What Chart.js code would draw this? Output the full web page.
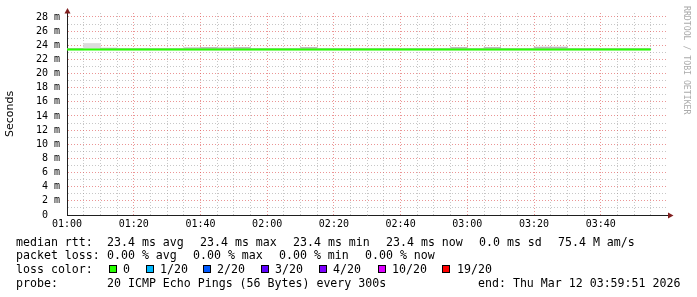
<!DOCTYPE html>
<html><head><meta charset="utf-8">
<script src="https://cdn.jsdelivr.net/npm/chart.js@4/dist/chart.umd.min.js"></script>
<style>
html,body{margin:0;padding:0;background:#fff;}
#wrap{position:relative;width:697px;height:297px;overflow:hidden;background:#fff;}
canvas{position:absolute;left:0;top:0;}
.t{position:absolute;font-family:"DejaVu Sans Mono",monospace;font-size:11.6px;line-height:14px;white-space:pre;color:#000;}
.box{position:absolute;width:6px;height:6px;border:1px solid #000;}
#wm{position:absolute;left:682px;top:6px;writing-mode:vertical-rl;font-family:"DejaVu Sans Mono",monospace;font-size:8.2px;line-height:10px;color:#aaa;white-space:pre;}
</style></head>
<body>
<div id="wrap">
<canvas id="c" width="697" height="297"></canvas>
<div id="legend"></div>
<div id="wm"></div>
</div>
<script>
// ---- data ----
const timeTickLabels = ['01:00','01:20','01:40','02:00','02:20','02:40','03:00','03:20','03:40'];
const stepMinutes = [0,5,10,15,20,25,30,35,40,45,50,55,60,65,70,75,80,85,90,95,100,105,110,115,120,125,130,135,140,145,150,155,160,165,170,175];
const medianRtt = [23.4,23.4,23.4,23.4,23.4,23.4,23.4,23.4,23.4,23.4,23.4,23.4,23.4,23.4,23.4,23.4,23.4,23.4,23.4,23.4,23.4,23.4,23.4,23.4,23.4,23.4,23.4,23.4,23.4,23.4,23.4,23.4,23.4,23.4,23.4,23.4];
const smokeStart = [0,5,10,15,20,25,30,35,40,45,50,55,60,65,70,75,80,85,90,95,100,105,110,115,120,125,130,135,140,145,150,155,160,165,170];
const smokeLow  = [23.35,23.4,23.35,23.35,23.35,23.35,23.35,23.35,23.35,23.35,23.35,23.35,23.35,23.35,23.35,23.35,23.35,23.35,23.35,23.35,23.35,23.35,23.35,23.35,23.35,23.35,23.35,23.35,23.35,23.35,23.35,23.35,23.35,23.35,23.35];
const smokeHigh = [23.55,24.25,23.6,23.55,23.55,23.55,23.55,23.65,23.7,23.65,23.7,23.55,23.55,23.55,23.7,23.55,23.55,23.55,23.55,23.55,23.55,23.55,23.55,23.7,23.55,23.7,23.55,23.55,23.75,23.75,23.55,23.55,23.55,23.55,23.55];
const yTickValues = [0,2,4,6,8,10,12,14,16,18,20,22,24,26,28];
const statLine1 = ['median rtt:','23.4 ms avg','23.4 ms max','23.4 ms min','23.4 ms now','0.0 ms sd','75.4 M am/s'];
const statLine2 = ['packet loss:','0.00 % avg','0.00 % max','0.00 % min','0.00 % now'];
const lossLabels = ['0','1/20','2/20','3/20','4/20','10/20','19/20'];
const lossColors = ['#26ff00','#00b8ff','#0059ff','#5e00ff','#7e00ff','#dd00ff','#ff0000'];
const probeText = ['probe:','20 ICMP Echo Pings (56 Bytes) every 300s','end: Thu Mar 12 03:59:51 2026'];
const watermark = 'RRDTOOL / TOBI OETIKER';

// ---- legend (HTML text) ----
const leg = document.getElementById('legend');
function addText(txt, x, y){const d=document.createElement('div');d.className='t';d.textContent=txt;d.style.left=x+'px';d.style.top=y+'px';leg.appendChild(d);}
const l1x=[16,107,200,293,386,479,558];
statLine1.forEach((s,i)=>addText(s,l1x[i],234.5));
const l2x=[16,107,193,279,365];
statLine2.forEach((s,i)=>addText(s,l2x[i],248));
addText('loss color:',16,262);
const bx=[109,146,203,261,319,378,442], tx=[123,160,217,275,333,392,457];
lossLabels.forEach((s,i)=>{const b=document.createElement('div');b.className='box';b.style.left=bx[i]+'px';b.style.top='265px';b.style.background=lossColors[i];leg.appendChild(b);addText(s,tx[i],262);});
const l4x=[16,107,478];
probeText.forEach((s,i)=>addText(s,l4x[i],275.5));
document.getElementById('wm').textContent = watermark;

// ---- chart ----
const MAJ='rgba(222,79,79,0.6)', MIN='rgba(143,143,143,0.5)';
const arrows = {
  id:'arrows',
  afterDraw(chart){
    const {ctx, chartArea:a} = chart;
    ctx.save();
    ctx.strokeStyle='#1f1f1f'; ctx.lineWidth=1;
    ctx.beginPath(); ctx.moveTo(a.right, a.bottom+0.5); ctx.lineTo(a.right+3, a.bottom+0.5); ctx.stroke();
    ctx.fillStyle='#801f1f';
    ctx.beginPath(); ctx.moveTo(a.right+6.5, a.bottom+0.5); ctx.lineTo(a.right+1, a.bottom-2.5); ctx.lineTo(a.right+1, a.bottom+3.5); ctx.closePath(); ctx.fill();
    ctx.beginPath(); ctx.moveTo(a.left+0.5, a.top-5); ctx.lineTo(a.left-2.5, a.top+0.5); ctx.lineTo(a.left+3.5, a.top+0.5); ctx.closePath(); ctx.fill();
    ctx.restore();
  }
};
new Chart(document.getElementById('c'), {
  type:'line',
  data:{
    datasets:[
      {type:'line', label:'median', data: stepMinutes.map((m,i)=>({x:m,y:medianRtt[i]})), borderColor:'#26ff00', borderWidth:2, pointRadius:0, stepped:'before', fill:false, order:0, borderCapStyle:'butt'},
      {type:'bar', label:'smoke', data: smokeStart.map((m,i)=>({x:m+2.5,y:[smokeLow[i],smokeHigh[i]]})),
        backgroundColor: smokeStart.map((m,i)=> (smokeHigh[i]-smokeLow[i])>0.5 ? '#dcdcdc' : '#b8b8b8'),
        borderWidth:0, barPercentage:1, categoryPercentage:1, order:1}
    ]
  },
  options:{
    responsive:false, animation:false, devicePixelRatio:1,
    layout:{padding:{top:12,right:30,left:0,bottom:0}},
    plugins:{legend:{display:false}, tooltip:{enabled:false}},
    scales:{
      x:{type:'linear', min:0, max:179.85, offset:false,
         afterFit(s){s.height=82;},
         ticks:{stepSize:5, autoSkip:false, maxRotation:0, minRotation:0, includeBounds:false, padding:3,
                font:{family:'DejaVu Sans Mono', size:10}, color:'#000',
                callback:(v)=> (v%20===0 && timeTickLabels[v/20]!==undefined) ? timeTickLabels[v/20] : ''},
         grid:{drawTicks:false, offset:false, lineWidth:1, color:(c)=> (c.tick && c.tick.value%20===0) ? MAJ : MIN},
         border:{display:true, color:'#1f1f1f', width:1, dash:[1,2]}},
      y:{type:'linear', min:0, max:28.56,
         afterFit(s){s.width=67;},
         ticks:{stepSize:1, autoSkip:false, includeBounds:false, padding:7,
                font:{family:'DejaVu Sans Mono', size:10}, color:'#000',
                callback:(v)=> yTickValues.includes(v) ? (v===0 ? '0  ' : v+' m') : ''},
         grid:{drawTicks:false, lineWidth:1, color:(c)=> (c.tick && c.tick.value%2===0) ? MAJ : MIN},
         border:{display:true, color:'#1f1f1f', width:1, dash:[1,2]},
         title:{display:true, text:'Seconds', color:'#000', font:{family:'DejaVu Sans', size:11}, padding:{top:4,bottom:0}}}
    }
  },
  plugins:[arrows]
});
</script>
</body></html>
